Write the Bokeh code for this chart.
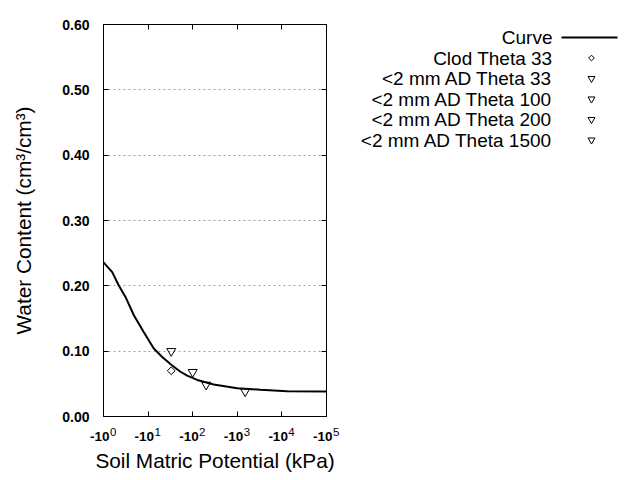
import math
from bokeh.plotting import figure
from bokeh.layouts import row
from bokeh.models import (FixedTicker, PrintfTickFormatter, LinearAxis, LogAxis, Range1d)
from bokeh.core.properties import value
from bokeh.embed import file_html
from bokeh.resources import INLINE

# ---- data ----
curve_kpa = [1, 1.57, 2.20, 3.11, 4.79, 8.02, 13.4, 20.7, 34.7, 53.2, 75.3, 126, 295, 1000, 3311, 13180, 100000]
curve_theta = [0.236, 0.221, 0.2006, 0.183, 0.155, 0.129, 0.104, 0.091, 0.078, 0.0685, 0.0625, 0.056, 0.049, 0.0434, 0.0409, 0.0387, 0.0383]

clod_kpa = [33]
clod_theta = [0.070]
ad33_kpa = [33]
ad33_theta = [0.100]
ad100_kpa = [100]
ad100_theta = [0.068]
ad200_kpa = [200]
ad200_theta = [0.0485]
ad1500_kpa = [1500]
ad1500_theta = [0.0383]

x_ticks = [1, 10, 100, 1000, 10000, 100000]
x_tick_base = ["-10", "-10", "-10", "-10", "-10", "-10"]
x_tick_exp = ["0", "1", "2", "3", "4", "5"]
y_ticks = [0.0, 0.1, 0.2, 0.3, 0.4, 0.5, 0.6]
grid_ticks = [0.1, 0.2, 0.3, 0.4, 0.5]

legend_labels = ["Curve", "Clod Theta 33", "<2 mm AD Theta 33", "<2 mm AD Theta 100",
                 "<2 mm AD Theta 200", "<2 mm AD Theta 1500"]

FONT = "Liberation Sans"
FS = "\u2007"  # figure space, used to shift label glyphs sideways

p = figure(x_axis_type="log", x_range=Range1d(1, 1e5), y_range=Range1d(0, 0.6),
           frame_width=223, frame_height=392,
           min_border_left=103, min_border_right=14, min_border_top=24, min_border_bottom=64,
           output_backend="svg", toolbar_location=None)
p.outline_line_color = "black"
p.outline_line_width = 1
p.background_fill_color = "white"
p.border_fill_color = "white"

# inner x axis: ticks and "-10" bases
xa = p.xaxis[0]
xa.ticker = FixedTicker(ticks=x_ticks)
xa.major_label_overrides = {t: b + FS for t, b in zip(x_ticks, x_tick_base)}
xa.major_tick_in = 5
xa.major_tick_out = 0
xa.minor_tick_in = 0
xa.minor_tick_out = 0
xa.axis_line_color = None
xa.major_label_standoff = 12
xa.major_label_text_font = FONT
xa.major_label_text_font_size = "13.5px"
xa.major_label_text_font_style = "bold"
xa.major_label_text_color = "black"

# outer x axis: exponents (pulled up next to the bases) and axis title
xe = LogAxis(ticker=FixedTicker(ticks=x_ticks),
             major_label_overrides={t: FS * 3 + e for t, e in zip(x_ticks, x_tick_exp)},
             major_tick_in=0, major_tick_out=0, minor_tick_in=0, minor_tick_out=0,
             axis_line_color=None, major_label_standoff=-21,
             major_label_text_font=FONT, major_label_text_font_size="11.5px",
             major_label_text_color="black",
             axis_label="Soil Matric Potential (kPa)", axis_label_text_font=FONT,
             axis_label_text_font_size="20.8px", axis_label_text_font_style="normal",
             axis_label_text_color="black", axis_label_standoff=8)
p.add_layout(xe, "below")

# y axis
ya = p.yaxis[0]
ya.ticker = FixedTicker(ticks=y_ticks)
ya.formatter = PrintfTickFormatter(format="%.2f")
ya.major_tick_in = 5
ya.major_tick_out = 0
ya.minor_tick_in = 0
ya.minor_tick_out = 0
ya.axis_line_color = None
ya.major_label_standoff = 14
ya.major_label_text_font = FONT
ya.major_label_text_font_size = "14px"
ya.major_label_text_font_style = "bold"
ya.major_label_text_color = "black"
ya.axis_label = "Water Content (cm\u00b3/cm\u00b3)"
ya.axis_label_text_font = FONT
ya.axis_label_text_font_size = "20.8px"
ya.axis_label_text_font_style = "normal"
ya.axis_label_text_color = "black"
ya.axis_label_standoff = 24

# mirrored ticks (no labels)
top = LogAxis(ticker=FixedTicker(ticks=x_ticks), major_tick_in=5, major_tick_out=0,
              minor_tick_in=0, minor_tick_out=0, axis_line_color=None,
              major_label_text_alpha=0, major_label_text_font_size="2px",
              major_label_standoff=0)
right = LinearAxis(ticker=FixedTicker(ticks=y_ticks), major_tick_in=5, major_tick_out=0,
                   minor_tick_in=0, minor_tick_out=0, axis_line_color=None,
                   major_label_text_alpha=0, major_label_text_font_size="2px",
                   major_label_standoff=0)
p.add_layout(top, "above")
p.add_layout(right, "right")

p.xgrid.visible = False
p.ygrid.ticker = FixedTicker(ticks=grid_ticks)
p.ygrid.grid_line_color = "#a0a0a0"
p.ygrid.grid_line_dash = "2 3"
p.ygrid.grid_line_width = 1

p.line(curve_kpa, curve_theta, line_color="black", line_width=2)
p.scatter(clod_kpa, clod_theta, marker="square", angle=math.pi / 4, size=5.5,
          fill_color=None, line_color="black", line_width=1)
for xs, ys_ in [(ad33_kpa, ad33_theta), (ad100_kpa, ad100_theta),
                (ad200_kpa, ad200_theta), (ad1500_kpa, ad1500_theta)]:
    p.scatter(xs, ys_, marker="inverted_triangle", size=9, fill_color=None,
              line_color="black", line_width=1)

# ---- legend panel (frame aligned with main frame: screen y 24..416) ----
lf = figure(width=300, height=480, x_range=Range1d(0, 300), y_range=Range1d(416, 24),
            min_border=0, output_backend="svg", toolbar_location=None)
lf.xaxis.visible = False
lf.yaxis.visible = False
lf.xgrid.visible = False
lf.ygrid.visible = False
lf.outline_line_color = None
lf.border_fill_color = "white"

ys = [37 + 20.5 * i for i in range(len(legend_labels))]
lf.text([212] * len(legend_labels), ys, text=legend_labels, text_align="right",
        text_baseline="middle", text_font=value(FONT), text_font_size="19px",
        text_color="black")
lf.line([221, 277], [ys[0], ys[0]], line_color="black", line_width=2)
lf.scatter([251], [ys[1]], marker="square", angle=math.pi / 4, size=4,
           fill_color=None, line_color="black", line_width=1)
lf.scatter([251] * 4, ys[2:], marker="inverted_triangle", size=7,
           fill_color=None, line_color="black", line_width=1)

layout = row(p, lf)
open("out.html", "w").write(file_html(layout, INLINE))
